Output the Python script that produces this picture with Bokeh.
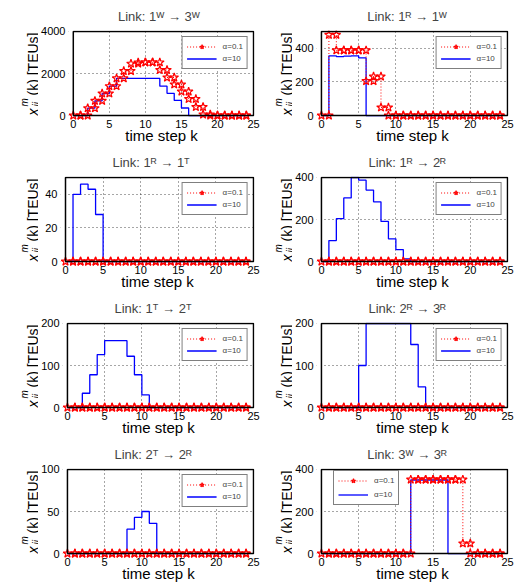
import math
from bokeh.plotting import figure
from bokeh.layouts import row, column
from bokeh.models import Range1d, FixedTicker, Label, Legend, LegendItem, BoxAnnotation
from bokeh.embed import file_html
from bokeh.resources import INLINE

# ---------------- data (values for time steps k = 0..24) ----------------
k_steps = list(range(25))

titles = ["Link: 1ᵂ → 3ᵂ", "Link: 1ᴿ → 1ᵂ",
          "Link: 1ᴿ → 1ᵀ", "Link: 1ᴿ → 2ᴿ",
          "Link: 1ᵀ → 2ᵀ", "Link: 2ᴿ → 3ᴿ",
          "Link: 2ᵀ → 2ᴿ", "Link: 3ᵂ → 3ᴿ"]
y_tops = [4000, 500, 50, 400, 200, 200, 100, 400]
y_ticks = [[0, 2000, 4000], [0, 200, 400], [0, 20, 40], [0, 200, 400],
           [0, 100, 200], [0, 100, 200], [0, 50, 100], [0, 200, 400]]
x_ticks = [0, 5, 10, 15, 20, 25]
legend_labels = ["α=0.1", "α=10"]
x_label = "time step k"

red_1W_3W = [0, 0, 350, 700, 1050, 1400, 1770, 2120, 2470, 2530, 2530, 2530, 2170, 1810, 1480,
             1140, 790, 410, 50, 0, 0, 0, 0, 0, 0]
blue_1W_3W = [0, 0, 350, 700, 1050, 1400, 1770, 1770, 1770, 1770, 1770, 1770, 1400, 1060, 720,
              360, 0, 0, 0, 0, 0, 0, 0, 0, 0]

red_1R_1W = [0, 480, 388, 388, 388, 388, 205, 232, 48, 0, 0, 0, 0, 0, 0,
             0, 0, 0, 0, 0, 0, 0, 0, 0, 0]
blue_1R_1W = [0, 355, 351, 353, 355, 343, 0, 0, 0, 0, 0, 0, 0, 0, 0,
              0, 0, 0, 0, 0, 0, 0, 0, 0, 0]

red_1R_1T = [0] * 25
blue_1R_1T = [0, 40, 46, 43, 28, 0, 0, 0, 0, 0, 0, 0, 0, 0, 0,
              0, 0, 0, 0, 0, 0, 0, 0, 0, 0]

red_1R_2R = [0] * 25
blue_1R_2R = [0, 100, 204, 303, 400, 387, 340, 284, 191, 108, 57, 13, 0, 0, 0,
              0, 0, 0, 0, 0, 0, 0, 0, 0, 0]

red_1T_2T = [0] * 25
blue_1T_2T = [0, 0, 34, 78, 126, 159, 159, 159, 122, 78, 30, 0, 0, 0, 0,
              0, 0, 0, 0, 0, 0, 0, 0, 0, 0]

red_2R_3R = [0] * 25
blue_2R_3R = [0, 0, 0, 0, 0, 100, 200, 200, 200, 200, 200, 200, 150, 49, 0,
              0, 0, 0, 0, 0, 0, 0, 0, 0, 0]

red_2T_2R = [0] * 25
blue_2T_2R = [0, 0, 0, 0, 0, 0, 0, 0, 29, 43, 50, 36, 0, 0, 0,
              0, 0, 0, 0, 0, 0, 0, 0, 0, 0]

red_3W_3R = [0, 0, 0, 0, 0, 0, 0, 0, 0, 0, 0, 0, 352, 352, 352,
             352, 352, 352, 352, 48, 0, 0, 0, 0, 0]
blue_3W_3R = [0, 0, 0, 0, 0, 0, 0, 0, 0, 0, 0, 0, 350, 350, 350,
              350, 350, 0, 0, 0, 0, 0, 0, 0, 0]

red_series = [red_1W_3W, red_1R_1W, red_1R_1T, red_1R_2R, red_1T_2T, red_2R_3R, red_2T_2R, red_3W_3R]
blue_series = [blue_1W_3W, blue_1R_1W, blue_1R_1T, blue_1R_2R, blue_1T_2T, blue_2R_3R, blue_2T_2R, blue_3W_3R]

# ---------------- layout constants ----------------
FONT = "Liberation Sans"
BOX_W, BOX_H = 188, 85
PAD = 5          # pixels of room below/left of the box so that markers at 0 are not cut
PAD_TR = 1       # pixel of room above/right of the box for its border line
FRAME_W, FRAME_H = PAD + BOX_W + PAD_TR, PAD + BOX_H + PAD_TR
X_END = 25
TOP_B = 30
BOTTOM_B = 25
LEFT_B = 22
RIGHT_B = 6
YLAB_W = [38, 32]        # width of the y-label strip for left / right column
YLAB_BASE = [32.3, 26.3]  # baseline of the rotated y label inside the strip
SUP_W = {"ᵂ": 9.0, "ᴿ": 6.5, "ᵀ": 6.5}


def stairs(k, v):
    xs, ys = [k[0]], [v[0]]
    for i in range(1, len(v)):
        xs += [k[i], k[i]]
        ys += [v[i - 1], v[i]]
    return xs, ys


def make_ylabel(col):
    height = TOP_B + FRAME_H + BOTTOM_B
    w = YLAB_W[col]
    f = figure(width=w, height=height, output_backend="svg", toolbar_location=None,
               x_axis_type=None, y_axis_type=None,
               x_range=Range1d(0, w), y_range=Range1d(0, height),
               min_border_left=0, min_border_right=0, min_border_top=0, min_border_bottom=0,
               outline_line_color=None, frame_align=False)
    bb = BOTTOM_B + PAD   # box bottom, measured from the canvas bottom
    bl = YLAB_BASE[col]   # baseline of the rotated text
    ang = math.pi / 2
    common = dict(x_units="screen", y_units="screen", angle=ang, text_font=FONT,
                  text_align="left", text_baseline="alphabetic", text_color="black")
    f.add_layout(Label(x=bl, y=bb + 1, text="x", text_font_size="14px",
                       text_font_style="italic", **common))
    f.add_layout(Label(x=bl - 8, y=bb + 10, text="m", text_font_size="10px",
                       text_font_style="italic", **common))
    f.add_layout(Label(x=bl + 4, y=bb + 10, text="ij", text_font_size="10px",
                       text_font_style="italic", **common))
    f.add_layout(Label(x=bl, y=bb + 21, text="(k)  [TEUs]", text_font_size="14px", **common))
    return f


def make_panel(idx):
    col = idx % 2
    width = LEFT_B + FRAME_W + RIGHT_B
    height = TOP_B + FRAME_H + BOTTOM_B
    top = y_tops[idx]
    padx = PAD * X_END / BOX_W
    pady = PAD * top / BOX_H
    x_hi = X_END + PAD_TR * X_END / BOX_W
    y_hi = top + PAD_TR * top / BOX_H

    p = figure(width=width, height=height, output_backend="svg", toolbar_location=None,
               x_range=Range1d(-padx, x_hi), y_range=Range1d(-pady, y_hi),
               min_border_left=LEFT_B, min_border_right=RIGHT_B,
               min_border_top=TOP_B, min_border_bottom=BOTTOM_B,
               outline_line_color=None, background_fill_color="white",
               border_fill_color="white", title=titles[idx], frame_align=False)

    # title: left aligned at a computed offset so that it sits centred over the box
    tw = 77 + sum(SUP_W.get(ch, 0) for ch in titles[idx])
    p.title.align = "left"
    p.title.offset = PAD + BOX_W / 2 - 2 - tw / 2
    p.title.text_font = FONT
    p.title.text_font_size = "13px"
    p.title.text_font_style = "normal"
    p.title.standoff = 13

    for ax in (p.xaxis[0], p.yaxis[0]):
        ax.axis_line_color = None
        ax.major_tick_line_color = None
        ax.minor_tick_line_color = None
        ax.major_label_text_font = FONT
        ax.major_label_text_font_size = "11px"
        ax.major_label_text_color = "black"
    p.xaxis.major_label_standoff = -7
    p.yaxis.major_label_standoff = -3
    p.xaxis.ticker = FixedTicker(ticks=x_ticks)
    p.yaxis.ticker = FixedTicker(ticks=y_ticks[idx])
    p.xaxis.axis_label = x_label
    p.xaxis.axis_label_text_font = FONT
    p.xaxis.axis_label_text_font_size = "15px"
    p.xaxis.axis_label_text_font_style = "normal"
    p.xaxis.axis_label_text_color = "black"
    p.xaxis.axis_label_standoff = -4

    p.xgrid.ticker = FixedTicker(ticks=x_ticks)
    p.ygrid.ticker = FixedTicker(ticks=y_ticks[idx])
    for g in (p.xgrid[0], p.ygrid[0]):
        g.grid_line_color = "black"
        g.grid_line_alpha = 0.7
        g.grid_line_dash = "1 3"
        g.grid_line_width = 1
        g.level = "image"

    # white masks over the room left/below the box, so grid lines end at the box
    p.quad(left=[-padx, -padx], right=[0, x_hi], bottom=[-pady, -pady], top=[y_hi, 0],
           fill_color="white", line_color=None, level="underlay")

    bx, by = stairs(k_steps, blue_series[idx])
    rx, ry = stairs(k_steps, red_series[idx])
    blue = p.line(bx, by, line_color="#0000ff", line_width=1.3)
    rline = p.line(rx, ry, line_color="#ff0000", line_width=1, line_dash="1 2")
    rstar = p.scatter(rx, ry, marker="star", size=9, line_color="#ff0000",
                      fill_color=None, line_width=1.2)

    p.add_layout(BoxAnnotation(left=0, right=X_END, bottom=0, top=top,
                               fill_alpha=0, fill_color=None,
                               line_color="black", line_alpha=1, line_width=1.5))

    legend = Legend(items=[LegendItem(label=legend_labels[0], renderers=[rline, rstar]),
                           LegendItem(label=legend_labels[1], renderers=[blue])],
                    label_text_font=FONT, label_text_font_size="8px",
                    glyph_width=30, glyph_height=11, label_height=11,
                    label_standoff=6, spacing=1, padding=4, margin=6,
                    border_line_color="black", border_line_width=1,
                    background_fill_color="white", background_fill_alpha=1)
    if idx == 7:
        legend.location = (17, FRAME_H - 5 - 33)
        legend.spacing = 3
    else:
        legend.location = "top_right"
    p.add_layout(legend)
    return p


panels = [make_panel(i) for i in range(8)]
rows = []
for r in range(4):
    rows.append(row(make_ylabel(0), panels[2 * r], make_ylabel(1), panels[2 * r + 1]))
layout = column(*rows)

open("out.html", "w").write(file_html(layout, INLINE))
